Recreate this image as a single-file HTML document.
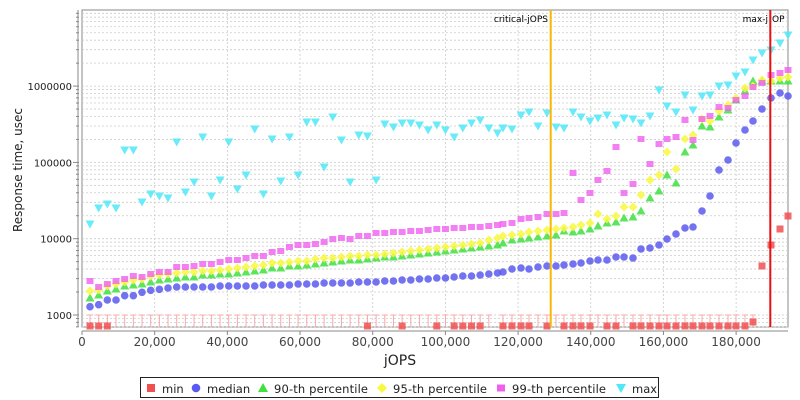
<!DOCTYPE html>
<html><head><meta charset="utf-8"><style>
body{margin:0;background:#fff;}
svg{display:block;font-family:"DejaVu Sans","Liberation Sans",sans-serif;}
</style></head><body>
<svg id="s" width="800" height="400" xmlns="http://www.w3.org/2000/svg"></svg>
<script>
const s=document.getElementById('s');
let h='';
const L=82,R=788,T=10,B=327;
const X=v=>82+v*0.003634;
const Y=v=>315-76.3*Math.log10(v/1000);
h+=`<rect x="${L}" y="${T}" width="${R-L}" height="${B-T}" fill="#fff" stroke="#888" stroke-width="1"/>`;
for(let d=100;d<=1e7;d*=10)for(let m=1;m<10;m++){const y=Y(d*m);if(y<T||y>B)continue;
h+=`<line x1="${L}" x2="${R}" y1="${y}" y2="${y}" stroke="#ccc" stroke-dasharray="2,2" stroke-width="0.8"/>`;
h+=`<line x1="${m==1?73:76}" x2="79" y1="${y}" y2="${y}" stroke="#888"/>`;}
for(let v=20000;v<=180000;v+=20000){const x=X(v);h+=`<line x1="${x}" x2="${x}" y1="${T}" y2="${B}" stroke="#ccc" stroke-dasharray="2,2" stroke-width="0.8"/>`;}
h+=`<line x1="78" x2="78" y1="${T}" y2="${B}" stroke="#888"/>`;
h+=`<line x1="${L}" x2="${R}" y1="331" y2="331" stroke="#888"/>`;
for(let v=0;v<=180000;v+=20000){const x=X(v);h+=`<line x1="${x}" x2="${x}" y1="331" y2="335" stroke="#888"/><text x="${x}" y="346" font-size="12" fill="#444" text-anchor="middle">${v.toLocaleString('en-US')}</text>`;}
[[1000,'1000'],[10000,'10000'],[100000,'100000'],[1e6,'1000000']].forEach(([v,t])=>h+=`<text x="72" y="${Y(v)+4}" font-size="10" fill="#222" text-anchor="end">${t}</text>`);
h+=`<text x="400" y="365" font-size="14" fill="#222" text-anchor="middle">jOPS</text>`;
h+=`<text transform="translate(22,170) rotate(-90)" font-size="12" fill="#222" text-anchor="middle">Response time, usec</text>`;
function lx(i){return 90+8.67*i;}
const rx=[503,512,521,529,538,547,556,564,573,581,590,598,607,616,624,633,641,650,659,667,676,685,693,702,710,719,728,736,745,753,762,771,780,788];
function build(left,mid,right){const pts=[];left.forEach((y,i)=>pts.push([lx(i),y]));
const n0=left.length;mid.forEach((y,j)=>pts.push([lx(n0+j),y]));right.forEach((y,j)=>pts.push([rx[j],y]));return pts;}
const med=build([306.7,304.7,300,300,295.7,295.7,292.3,290.3,289.3,288,287,287,287,287,287,286,286,286,286,286,285,285,285,285,284,284,284,283,283,283,283,282,282,282,281],
[281,280,280,279,279,278,278,277,276,276,275,274,273],
[272,269,268,269,267,266,266,265,264,263,261,260,260,257,257,258,249,248,245,239,234,228,227,211,196,170,160,143,130,121,109,98,93,96]);
const p99=build([281,287,284,281,279,276,277,274,272,272,267,267,266,264,264,262,260,260,258,256,256,252,251,247,245,245,244,242,239,238,239,236,236,233,233],
[232,232,231,231,230,229,229,228,228,227,227,226,225],
[224,223,219,218,217,214,214,213,173,200,193,180,171,147,193,184,139,164,144,139,137,120,140,119,116,107,108,100,96,87,83,75,73,70]);
const p95=build([291,290,286,284,282,280,279,276,275,274,273,272,272,271,271,270,269,268,267,266,265,263,263,262,261,261,259,258,258,257,256,256,255,255,254],
[253,252,251,250,249,248,247,246,245,244,243,240,238],
[236,235,234,232,231,230,229,228,227,225,223,214,219,216,207,207,195,180,175,152,169,139,135,119,121,111,105,98,88,86,80,81,78,77]);
const p90=build([298,295,291,289,286,285,284,282,280,279,278,277,277,275,275,274,274,273,272,271,270,268,268,266,266,265,264,263,262,261,260,260,259,258,257],
[257,256,255,254,253,252,251,250,249,248,247,246,245],
[243,240,239,238,237,236,235,231,232,231,229,226,223,222,218,217,211,198,191,175,183,152,145,126,127,117,110,100,91,81,81,81,81,81]);
const mx=build([224,208,204,208,150,150,202,194,196,198,142,192,182,137,196,180,142,189,175,129,194,139,181,137,175,122,122,167,117,140,182,135,136,180,124],
[127,123,123,125,130,125,130,137,128,123,120,128,133],
[128,129,115,112,126,113,127,128,112,117,121,118,115,125,118,119,123,116,90,106,112,95,110,96,95,86,85,76,72,60,53,50,43,35]);
const mn=[];for(let i=0;i<47;i++)mn.push([lx(i),326]);rx.forEach((x,j)=>{let y=326;if(j==29)y=322;if(j==30)y=266;if(j==31)y=245;if(j==32)y=229;if(j==33)y=216;mn.push([x,y]);});
const sq=new Set([0,1,2,32,36,40,42,43,44,45,47,48,49,50,52,54,55,56,57,59,60,62,63,64,65,66,67,68,69,70,71,72,73,74,75,76,77,78,79,80]);
mn.forEach(([x,y],k)=>{if(y>=322)h+=`<line x1="${x}" x2="${x}" y1="315" y2="327" stroke="#f8a8a8"/><line x1="${x-3}" x2="${x+3}" y1="315" y2="315" stroke="#f8a8a8"/>`;
if(sq.has(k)||y<322)h+=`<rect x="${x-3.5}" y="${y-3.5}" width="7" height="7" fill="#f05050" opacity="0.85"/>`;});
med.forEach(([x,y])=>h+=`<circle cx="${x}" cy="${y}" r="3.8" fill="#5a5af0" opacity="0.85"/>`);
p90.forEach(([x,y])=>h+=`<polygon points="${x},${y-4.5} ${x+4.5},${y+3.5} ${x-4.5},${y+3.5}" fill="#40e040" opacity="0.85"/>`);
p95.forEach(([x,y])=>h+=`<polygon points="${x},${y-4.5} ${x+4.5},${y} ${x},${y+4.5} ${x-4.5},${y}" fill="#f8f840" opacity="0.85"/>`);
p99.forEach(([x,y])=>h+=`<rect x="${x-3.5}" y="${y-3}" width="7" height="6" fill="#f060f0" opacity="0.8"/>`);
mx.forEach(([x,y])=>h+=`<polygon points="${x-4.5},${y-3.5} ${x+4.5},${y-3.5} ${x},${y+4.5}" fill="#50e8f8" opacity="0.85"/>`);
h+=`<line x1="550.7" x2="550.7" y1="${T}" y2="${B}" stroke="#f8b800" stroke-width="2"/>`;
h+=`<line x1="770.3" x2="770.3" y1="${T}" y2="${B}" stroke="#e81010" stroke-width="2"/>`;
h+=`<text x="548" y="22" font-size="9" fill="#000" text-anchor="end">critical-jOPS</text>`;
h+=`<text x="768" y="22" font-size="9" fill="#000" text-anchor="end">max-j</text><text x="772" y="22" font-size="9" fill="#000">OP</text>`;
h+=`<rect x="140.5" y="377.5" width="518" height="20" fill="#fff" stroke="#222"/>`;
const ly=388;
h+=`<rect x="147" y="${ly-4}" width="8" height="8" fill="#f05050"/><text x="162" y="${ly+5}" font-size="11.5" fill="#222">min</text>`;
h+=`<circle cx="196" cy="${ly}" r="4.3" fill="#5a5af0"/><text x="207" y="${ly+5}" font-size="11.5" fill="#222">median</text>`;
h+=`<polygon points="263,${ly-5} 268,${ly+4} 258,${ly+4}" fill="#40e040"/><text x="274" y="${ly+5}" font-size="11.5" fill="#222" textLength="94">90-th percentile</text>`;
h+=`<polygon points="382,${ly-5} 387,${ly} 382,${ly+5} 377,${ly}" fill="#f8f840"/><text x="393" y="${ly+5}" font-size="11.5" fill="#222" textLength="94">95-th percentile</text>`;
h+=`<rect x="497" y="${ly-3.5}" width="8" height="7" fill="#f060f0"/><text x="512" y="${ly+5}" font-size="11.5" fill="#222" textLength="94">99-th percentile</text>`;
h+=`<polygon points="616,${ly-4} 626,${ly-4} 621,${ly+5}" fill="#50e8f8"/><text x="632" y="${ly+5}" font-size="11.5" fill="#222">max</text>`;
s.innerHTML=h;
</script>
</body></html>
